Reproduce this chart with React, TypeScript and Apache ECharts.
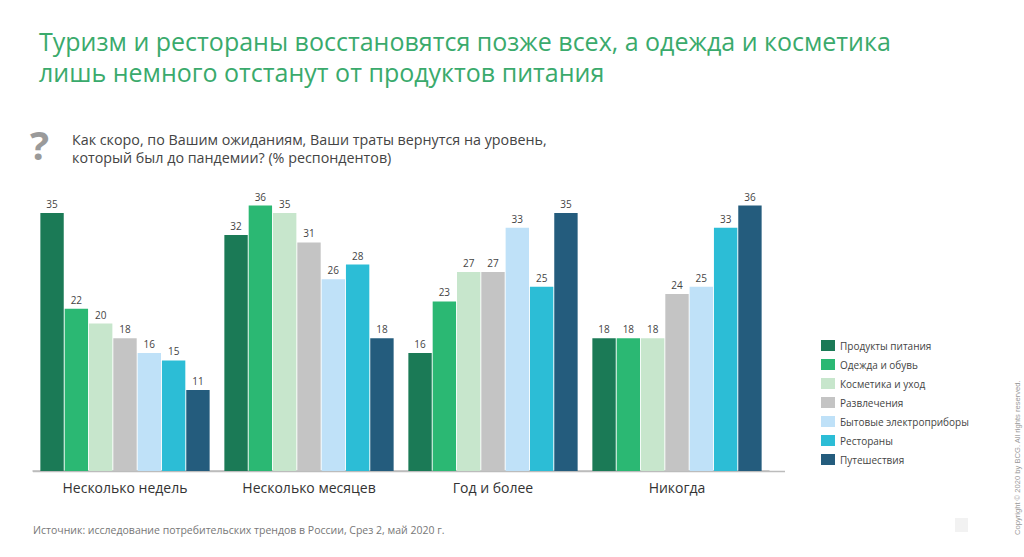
import React, { useEffect, useRef } from "react";
import * as echarts from "echarts";

const categories = ["Несколько недель", "Несколько месяцев", "Год и более", "Никогда"];
const seriesNames = [
  "Продукты питания",
  "Одежда и обувь",
  "Косметика и уход",
  "Развлечения",
  "Бытовые электроприборы",
  "Рестораны",
  "Путешествия",
];
const food = [35, 32, 16, 18];
const clothing = [22, 36, 23, 18];
const cosmetics = [20, 35, 27, 18];
const entertainment = [18, 31, 27, 24];
const appliances = [16, 26, 33, 25];
const restaurants = [15, 28, 25, 33];
const travel = [11, 18, 35, 36];
const seriesValues = [food, clothing, cosmetics, entertainment, appliances, restaurants, travel];
const colors = ["#1b7a56", "#2bb873", "#c7e6cc", "#c4c4c4", "#bfe1f8", "#2cbdd6", "#245c7d"];

const titleText = "Туризм и рестораны восстановятся позже всех, а одежда и косметика\nлишь немного отстанут от продуктов питания";
const questionText = "Как скоро, по Вашим ожиданиям, Ваши траты вернутся на уровень,\nкоторый был до пандемии? (% респондентов)";
const sourceText = "Источник: исследование потребительских трендов в России, Срез 2, май 2020 г.";
const copyrightText = "Copyright © 2020 by BCG. All rights reserved.";

const FONT = "'Open Sans', sans-serif";

export default function App() {
  const ref = useRef<HTMLDivElement>(null);
  useEffect(() => {
    if (!ref.current) return;
    const chart = echarts.init(ref.current, undefined, { renderer: "svg" });
    chart.setOption({
      animation: false,
      backgroundColor: "#ffffff",
      color: colors,
      title: [
        {
          text: titleText,
          left: 34,
          top: 20,
          textStyle: { fontFamily: FONT, fontSize: 25, fontWeight: "normal", color: "#3aaa6c", lineHeight: 31 },
        },
        {
          text: questionText,
          left: 67,
          top: 125,
          textStyle: { fontFamily: FONT, fontSize: 14.3, fontWeight: "normal", color: "#444", lineHeight: 18 },
        },
      ],
      graphic: [
        {
          type: "text",
          left: 30,
          top: 124,
          style: { text: "?", fontFamily: FONT, fontSize: 40, fontWeight: "bold", fill: "#9a9a9a" },
        },
        {
          type: "text",
          left: 33,
          top: 524,
          style: { text: sourceText, fontFamily: FONT, fontSize: 10.5, fill: "#777" },
        },
        {
          type: "text",
          x: 1013,
          y: 535,
          rotation: Math.PI / 2,
          style: { text: copyrightText, fontFamily: "sans-serif", fontSize: 7.6, fill: "#999" },
        },
        {
          type: "rect",
          shape: { x: 955, y: 518, width: 13, height: 14 },
          style: { fill: "#f2f2f2" },
        },
        {
          type: "line",
          shape: { x1: 33, y1: 471.5, x2: 785, y2: 471.5 },
          style: { stroke: "#bcbcbc", lineWidth: 1.5 },
        },
      ],
      legend: {
        orient: "vertical",
        left: 816,
        top: 335,
        itemWidth: 14,
        itemHeight: 11,
        itemGap: 8,
        icon: "rect",
        data: seriesNames,
        textStyle: { fontFamily: FONT, fontSize: 10, color: "#444" },
      },
      grid: { left: 33, right: 255, top: 176, bottom: 86, containLabel: false },
      xAxis: {
        type: "category",
        data: categories,
        axisLine: { show: true, lineStyle: { color: "#bcbcbc", width: 1.5 } },
        axisTick: { show: false },
        axisLabel: { interval: 0, fontFamily: FONT, fontSize: 14, color: "#333", margin: 9 },
      },
      yAxis: { type: "value", min: 0, max: 40, show: false, splitLine: { show: false } },
      series: seriesNames.map((name, i) => ({
        name,
        type: "bar",
        data: seriesValues[i],
        barCategoryGap: "8%",
        barGap: "4%",
        itemStyle: { color: colors[i] },
        label: { show: true, position: "top", distance: 4, fontFamily: FONT, fontSize: 10, color: "#444" },
      })),
    });
    return () => chart.dispose();
  }, []);
  return <div ref={ref} style={{ position: "absolute", left: 0, top: 0, width: 1024, height: 557 }} />;
}
